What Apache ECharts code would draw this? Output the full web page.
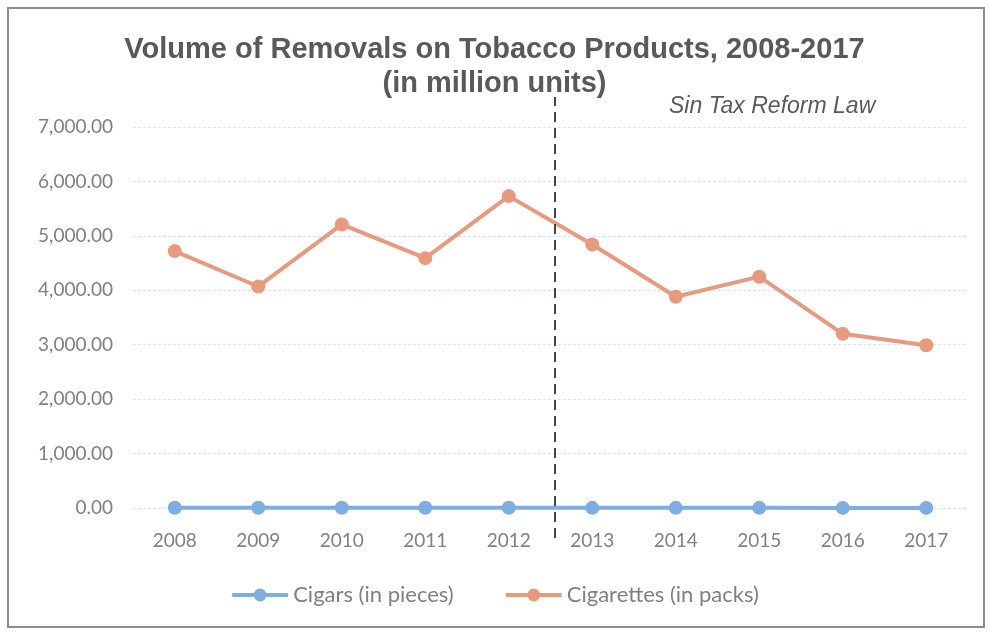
<!DOCTYPE html>
<html>
<head>
    <meta charset="UTF-8">
    <style>
        body { margin: 0; background: #fff; }
        #container { width: 989px; height: 633px; }
    </style>
</head>
<body>
<div id="container"></div>

<script src="https://cdn.jsdelivr.net/npm/echarts@6/dist/echarts.min.js"></script>
<script type="text/javascript">
    // data (million units)
    var years = ['2008', '2009', '2010', '2011', '2012', '2013', '2014', '2015', '2016', '2017'];
    var cigars = [5, 5, 4, 4, 4, 3, 3, 3, 2, 2];
    var cigarettes = [4720, 4070, 5210, 4590, 5730, 4840, 3880, 4250, 3200, 2990];
    var reformAt = 4.55; // position between 2012 and 2013 (category index)

    var grey = '#595959';
    var labelGrey = '#808080';
    var dom = document.getElementById('container');
    var myChart = echarts.init(dom, null, { renderer: 'canvas' });

    var option = {
        animation: false,
        title: [
            {
                text: 'Volume of Removals on Tobacco Products, 2008-2017\n(in million units)',
                left: 'center',
                top: 28,
                textStyle: {
                    fontFamily: 'Liberation Sans Narrow, Arial Narrow, Liberation Sans',
                    fontWeight: 'bold',
                    fontSize: 29,
                    lineHeight: 34,
                    color: grey
                }
            },
            {
                text: 'Sin Tax Reform Law',
                left: 664,
                top: 90,
                textStyle: {
                    fontFamily: 'Liberation Sans',
                    fontStyle: 'italic',
                    fontWeight: 'normal',
                    fontSize: 23,
                    color: grey
                }
            }
        ],
        graphic: [{
            type: 'rect',
            shape: { x: 8, y: 8, width: 976, height: 619 },
            style: { fill: 'none', stroke: '#8c8c8c', lineWidth: 2 },
            silent: true
        }],
        legend: {
            bottom: 22,
            left: 'center',
            itemWidth: 56,
            itemHeight: 16,
            itemGap: 50,
            lineStyle: { width: 4 },
            textStyle: { fontFamily: 'Lato', fontSize: 22, color: labelGrey },
            data: ['Cigars (in pieces)', 'Cigarettes (in packs)']
        },
        grid: [
            { left: 133, right: 21, top: 127, bottom: 125 },
            { left: 133, right: 21, top: 97, bottom: 95 }
        ],
        xAxis: [
            {
                type: 'category',
                data: years,
                boundaryGap: true,
                axisLine: { show: false },
                axisTick: { show: false },
                axisLabel: { fontFamily: 'Lato', fontSize: 19, color: labelGrey, margin: 23 }
            },
            {
                // helper axis for the reform marker, same spacing as the categories
                type: 'value',
                gridIndex: 1,
                min: -0.5,
                max: years.length - 0.5,
                show: false
            }
        ],
        yAxis: [
            {
                type: 'value',
                min: 0,
                max: 7000,
                interval: 1000,
                axisLine: { show: false },
                axisTick: { show: false },
                axisLabel: {
                    fontFamily: 'Lato',
                    fontSize: 19,
                    color: labelGrey,
                    margin: 20,
                    formatter: function (v) {
                        return v.toLocaleString('en-US', { minimumFractionDigits: 2, maximumFractionDigits: 2 });
                    }
                },
                splitLine: { lineStyle: { color: '#d5e3f3', width: 1, type: [3, 2] } }
            },
            {
                type: 'value',
                gridIndex: 1,
                min: 0,
                max: 1,
                show: false
            }
        ],
        series: [
            {
                name: 'Cigars (in pieces)',
                type: 'line',
                data: cigars,
                symbol: 'circle',
                symbolSize: 14,
                lineStyle: { width: 4, color: '#7eaee0' },
                itemStyle: { color: '#7eaee0' },
                z: 3
            },
            {
                name: 'Cigarettes (in packs)',
                type: 'line',
                data: cigarettes,
                symbol: 'circle',
                symbolSize: 14,
                lineStyle: { width: 4, color: '#e79a7d' },
                itemStyle: { color: '#e79a7d' },
                z: 3
            },
            {
                name: 'reform',
                type: 'line',
                xAxisIndex: 1,
                yAxisIndex: 1,
                data: [],
                silent: true,
                markLine: {
                    symbol: ['none', 'none'],
                    label: { show: false },
                    lineStyle: { color: '#444', width: 2, type: [10, 6] },
                    data: [{ xAxis: reformAt }]
                },
                z: 4
            }
        ]
    };

    myChart.setOption(option);
    window.addEventListener('resize', myChart.resize);
</script>
</body>
</html>
